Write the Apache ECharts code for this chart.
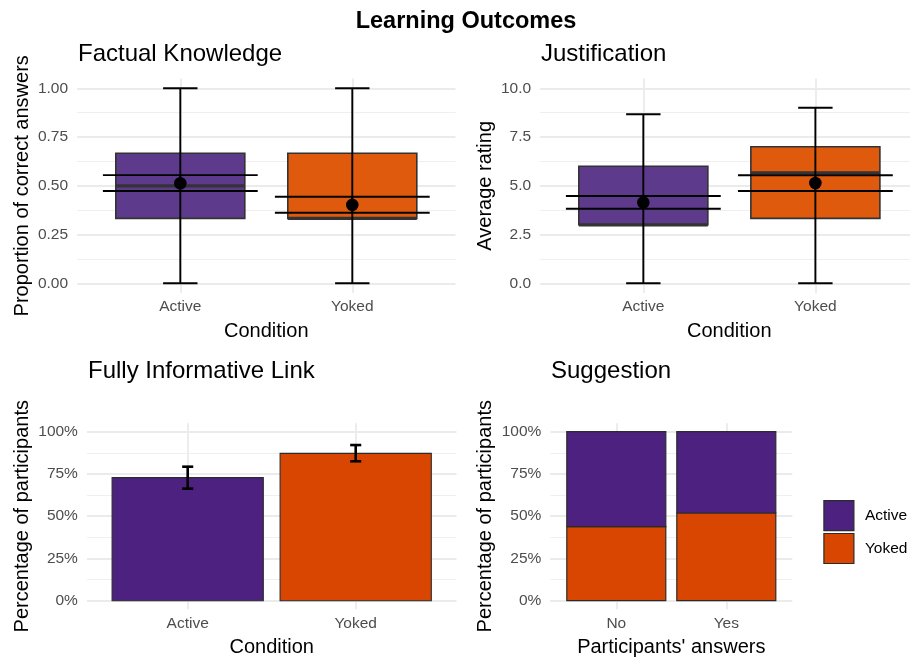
<!DOCTYPE html>
<html><head><meta charset="utf-8">
<script src="https://cdn.jsdelivr.net/npm/echarts@6/dist/echarts.min.js"></script>
<style>html,body{margin:0;padding:0;background:#fff}#c{width:910px;height:659px}</style>
</head><body><div id="c"></div>
<script>
// ---------- data ----------
const conditions = ['Active', 'Yoked'];
// Factual Knowledge (proportion of correct answers)
const factualMin = [0, 0];
const factualQ1 = [0.333, 0.333];
const factualMedian = [0.5, 0.333];
const factualQ3 = [0.667, 0.667];
const factualMax = [1, 1];
const factualMean = [0.513, 0.402];
const factualCILow = [0.473, 0.362];
const factualCIHigh = [0.555, 0.444];
// Justification (average rating)
const justMin = [0, 0];
const justQ1 = [3.0, 3.33];
const justMedian = [3.0, 5.67];
const justQ3 = [6.0, 7.0];
const justMax = [8.67, 9.0];
const justMean = [4.14, 5.14];
const justCILow = [3.82, 4.73];
const justCIHigh = [4.48, 5.54];
// Fully Informative Link (share of participants)
const linkShare = [0.728, 0.872];
const linkLow = [0.663, 0.825];
const linkHigh = [0.793, 0.921];
// Suggestion (share of participants by answer)
const answers = ['No', 'Yes'];
const suggestionYoked = [0.438, 0.519];
const suggestionActive = [0.562, 0.481];
// tick values
const factualTicks = [0, 0.25, 0.5, 0.75, 1];
const factualMinor = [0.125, 0.375, 0.625, 0.875];
const justTicks = [0, 2.5, 5, 7.5, 10];
const justMinor = [1.25, 3.75, 6.25, 8.75];
const percentTicks = [0, 0.25, 0.5, 0.75, 1];
const percentMinor = [0.125, 0.375, 0.625, 0.875];

// ---------- styles ----------
const FONT = "'Liberation Sans', Arial, Helvetica, sans-serif";
const boxFill = ['#5e3a8d', '#e05a0e'];
const barFill = ['#4d2180', '#d94601'];
const GRID_MAJOR = {color: '#ebebeb', width: 1.8};
const GRID_MINOR = {color: '#efefef', width: 1};

const chart = echarts.init(document.getElementById('c'), null, {renderer: 'canvas'});

const grids = [
  {left: 77.1, top: 78.55, width: 378.4, height: 214.5},
  {left: 540.1, top: 78.55, width: 369.9, height: 214.5},
  {left: 86.9, top: 423.25, width: 369.6, height: 185.9},
  {left: 550.3, top: 423.25, width: 242, height: 185.9}
].map(g => Object.assign({containLabel: false, outerBoundsMode: 'none'}, g));

function xAxisFor(gi, cats, max, margin) {
  const pos = cats.map((c, i) => i + 1);
  return {
    type: 'value', gridIndex: gi, min: 0.4, max: max,
    axisLine: {show: false},
    axisTick: {show: false, customValues: pos},
    axisLabel: {customValues: pos, formatter: v => cats[Math.round(v) - 1], color: '#4d4d4d', fontSize: 15.5, fontFamily: FONT, margin: margin},
    splitLine: {show: true, lineStyle: GRID_MAJOR}
  };
}
function yAxisFor(gi, min, max, ticks, fmt) {
  return {
    type: 'value', gridIndex: gi, min: min, max: max,
    axisLine: {show: false},
    axisTick: {show: false, customValues: ticks},
    axisLabel: {customValues: ticks, formatter: fmt, color: '#4d4d4d', fontSize: 15.5, fontFamily: FONT, margin: 9},
    splitLine: {show: true, lineStyle: GRID_MAJOR}
  };
}
function yMinorFor(gi, min, max, ticks) {
  return {
    type: 'value', gridIndex: gi, min: min, max: max, position: 'left',
    axisLine: {show: false},
    axisTick: {show: false, customValues: ticks},
    axisLabel: {show: false, customValues: ticks},
    splitLine: {show: true, lineStyle: GRID_MINOR}
  };
}

// ---------- render helpers ----------
function renderBox(params, api) {
  const x = api.value(0), q1 = api.value(1), med = api.value(2), q3 = api.value(3);
  const hw = 0.375;
  const a = api.coord([x - hw, q3]), b = api.coord([x + hw, q1]);
  const m1 = api.coord([x - hw, med]), m2 = api.coord([x + hw, med]);
  return {type: 'group', children: [
    {type: 'rect', shape: {x: a[0], y: a[1], width: b[0] - a[0], height: b[1] - a[1]},
     style: {fill: boxFill[params.dataIndex], stroke: '#333333', lineWidth: 1.6}},
    {type: 'line', shape: {x1: m1[0], y1: m1[1], x2: m2[0], y2: m2[1]},
     style: {stroke: '#333333', lineWidth: 3.2}}
  ]};
}
function makeErrorbar(capWidth, lw) {
  return function (params, api) {
    const x = api.value(0), lo = api.value(1), hi = api.value(2);
    const t = api.coord([x, hi]), b = api.coord([x, lo]);
    const tl = api.coord([x - capWidth / 2, hi]), tr = api.coord([x + capWidth / 2, hi]);
    const bl = api.coord([x - capWidth / 2, lo]), br = api.coord([x + capWidth / 2, lo]);
    const st = {stroke: '#000', lineWidth: lw};
    return {type: 'group', children: [
      {type: 'line', shape: {x1: t[0], y1: t[1], x2: b[0], y2: b[1]}, style: st},
      {type: 'line', shape: {x1: tl[0], y1: tl[1], x2: tr[0], y2: tr[1]}, style: st},
      {type: 'line', shape: {x1: bl[0], y1: bl[1], x2: br[0], y2: br[1]}, style: st}
    ]};
  };
}
function makeRangeBar(fillFn, width, lw) {
  return function (params, api) {
    const x = api.value(0), lo = api.value(1), hi = api.value(2);
    const a = api.coord([x - width / 2, hi]), b = api.coord([x + width / 2, lo]);
    return {type: 'rect', shape: {x: a[0], y: a[1], width: b[0] - a[0], height: b[1] - a[1]},
      style: {fill: fillFn(params.dataIndex), stroke: '#2b2b2b', lineWidth: lw}};
  };
}

// ---------- series data ----------
const idx = conditions.map((c, i) => i + 1);
const factualBox = idx.map((x, i) => [x, factualQ1[i], factualMedian[i], factualQ3[i]]);
const factualWhisker = idx.map((x, i) => [x, factualMin[i], factualMax[i]]);
const factualCI = idx.map((x, i) => [x, factualCILow[i], factualCIHigh[i]]);
const factualMeanPts = idx.map((x, i) => [x, factualMean[i]]);
const justBox = idx.map((x, i) => [x, justQ1[i], justMedian[i], justQ3[i]]);
const justWhisker = idx.map((x, i) => [x, justMin[i], justMax[i]]);
const justCI = idx.map((x, i) => [x, justCILow[i], justCIHigh[i]]);
const justMeanPts = idx.map((x, i) => [x, justMean[i]]);
const linkBars = idx.map((x, i) => [x, 0, linkShare[i]]);
const linkErr = idx.map((x, i) => [x, linkLow[i], linkHigh[i]]);
const ansIdx = answers.map((a, i) => i + 1);
const sugYokedBars = ansIdx.map((x, i) => [x, 0, suggestionYoked[i]]);
const sugActiveBars = ansIdx.map((x, i) => [x, suggestionYoked[i], suggestionYoked[i] + suggestionActive[i]]);

function panelSeries(gi, box, whisker, ci, means) {
  return [
    {type: 'custom', xAxisIndex: gi, yAxisIndex: gi, renderItem: renderBox, data: box, encode: {x: 0, y: [1, 2, 3]}, silent: true},
    {type: 'custom', xAxisIndex: gi, yAxisIndex: gi, renderItem: makeErrorbar(0.2, 1.9), data: whisker, encode: {x: 0, y: [1, 2]}, silent: true},
    {type: 'custom', xAxisIndex: gi, yAxisIndex: gi, renderItem: makeErrorbar(0.9, 1.9), data: ci, encode: {x: 0, y: [1, 2]}, silent: true},
    {type: 'scatter', xAxisIndex: gi, yAxisIndex: gi, data: means, symbolSize: 12.6, itemStyle: {color: '#000', opacity: 1}, silent: true}
  ];
}

const pct = v => Math.round(v * 100) + '%';

const option = {
  animation: false,
  backgroundColor: '#fff',
  textStyle: {fontFamily: FONT},
  grid: grids,
  xAxis: [
    xAxisFor(0, conditions, 2.6, 6),
    xAxisFor(1, conditions, 2.55, 6),
    xAxisFor(2, conditions, 2.6, 7),
    xAxisFor(3, answers, 2.6, 7)
  ],
  yAxis: [
    yAxisFor(0, -0.05, 1.05, factualTicks, v => v.toFixed(2)),
    yAxisFor(1, -0.5, 10.5, justTicks, v => v.toFixed(1)),
    yAxisFor(2, -0.05, 1.05, percentTicks, pct),
    yAxisFor(3, -0.05, 1.05, percentTicks, pct),
    yMinorFor(0, -0.05, 1.05, factualMinor),
    yMinorFor(1, -0.5, 10.5, justMinor),
    yMinorFor(2, -0.05, 1.05, percentMinor),
    yMinorFor(3, -0.05, 1.05, percentMinor)
  ],
  legend: {
    orient: 'vertical', left: 818.3, top: 495, itemWidth: 30, itemHeight: 30, itemGap: 1.7,
    selectedMode: false, icon: 'rect',
    textStyle: {fontSize: 15.5, color: '#000', fontFamily: FONT, padding: [0, 0, 0, 6]},
    data: [
      {name: 'Active', icon: 'rect', itemStyle: {color: barFill[0], borderColor: '#2b2b2b', borderWidth: 1.2}},
      {name: 'Yoked', icon: 'rect', itemStyle: {color: barFill[1], borderColor: '#2b2b2b', borderWidth: 1.2}}
    ]
  },
  series: [
    ...panelSeries(0, factualBox, factualWhisker, factualCI, factualMeanPts),
    ...panelSeries(1, justBox, justWhisker, justCI, justMeanPts),
    {type: 'custom', xAxisIndex: 2, yAxisIndex: 2, renderItem: makeRangeBar(i => barFill[i], 0.9, 1.1), data: linkBars, encode: {x: 0, y: [1, 2]}, silent: true},
    {type: 'custom', xAxisIndex: 2, yAxisIndex: 2, renderItem: makeErrorbar(0.066, 2.6), data: linkErr, encode: {x: 0, y: [1, 2]}, silent: true},
    {name: 'Yoked', type: 'custom', xAxisIndex: 3, yAxisIndex: 3, renderItem: makeRangeBar(() => barFill[1], 0.9, 1.2), data: sugYokedBars, encode: {x: 0, y: [1, 2]}, itemStyle: {color: barFill[1]}, silent: true},
    {name: 'Active', type: 'custom', xAxisIndex: 3, yAxisIndex: 3, renderItem: makeRangeBar(() => barFill[0], 0.9, 1.2), data: sugActiveBars, encode: {x: 0, y: [1, 2]}, itemStyle: {color: barFill[0]}, silent: true}
  ],
  graphic: [
    {type: 'text', x: 466, y: 22, style: {text: 'Learning Outcomes', fill: '#000', font: 'bold 23.5px ' + FONT, align: 'center', verticalAlign: 'middle'}},
    {type: 'text', x: 78, y: 54, style: {text: 'Factual Knowledge', fill: '#000', font: '24px ' + FONT, align: 'left', verticalAlign: 'middle'}},
    {type: 'text', x: 541, y: 54, style: {text: 'Justification', fill: '#000', font: '24px ' + FONT, align: 'left', verticalAlign: 'middle'}},
    {type: 'text', x: 88, y: 371, style: {text: 'Fully Informative Link', fill: '#000', font: '24px ' + FONT, align: 'left', verticalAlign: 'middle'}},
    {type: 'text', x: 551, y: 371, style: {text: 'Suggestion', fill: '#000', font: '24px ' + FONT, align: 'left', verticalAlign: 'middle'}},
    {type: 'text', x: 266.3, y: 331, style: {text: 'Condition', fill: '#000', font: '20px ' + FONT, align: 'center', verticalAlign: 'middle'}},
    {type: 'text', x: 729.3, y: 331, style: {text: 'Condition', fill: '#000', font: '20px ' + FONT, align: 'center', verticalAlign: 'middle'}},
    {type: 'text', x: 271.7, y: 647, style: {text: 'Condition', fill: '#000', font: '20px ' + FONT, align: 'center', verticalAlign: 'middle'}},
    {type: 'text', x: 671.3, y: 647, style: {text: "Participants' answers", fill: '#000', font: '20px ' + FONT, align: 'center', verticalAlign: 'middle'}},
    {type: 'text', x: 22, y: 185.8, rotation: Math.PI / 2, style: {text: 'Proportion of correct answers', fill: '#000', font: '20px ' + FONT, align: 'center', verticalAlign: 'middle'}},
    {type: 'text', x: 485.5, y: 185.8, rotation: Math.PI / 2, style: {text: 'Average rating', fill: '#000', font: '20px ' + FONT, align: 'center', verticalAlign: 'middle'}},
    {type: 'text', x: 22, y: 516.2, rotation: Math.PI / 2, style: {text: 'Percentage of participants', fill: '#000', font: '20px ' + FONT, align: 'center', verticalAlign: 'middle'}},
    {type: 'text', x: 485.5, y: 516.2, rotation: Math.PI / 2, style: {text: 'Percentage of participants', fill: '#000', font: '20px ' + FONT, align: 'center', verticalAlign: 'middle'}}
  ]
};
chart.setOption(option);
</script></body></html>
